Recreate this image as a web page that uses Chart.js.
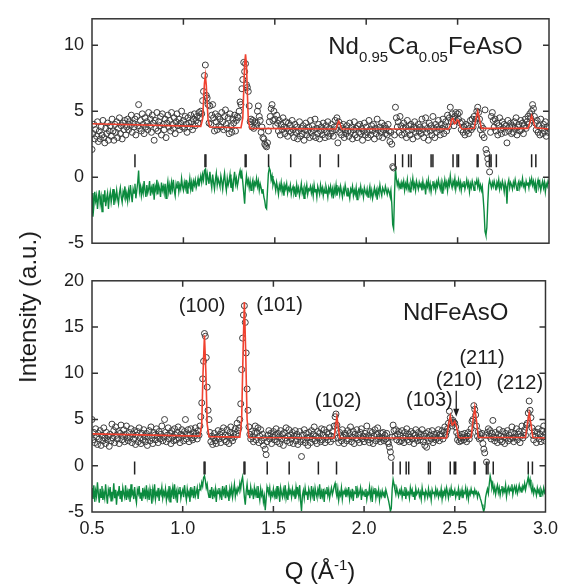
<!DOCTYPE html>
<html><head><meta charset="utf-8">
<script src="https://cdn.jsdelivr.net/npm/chart.js@4/dist/chart.umd.min.js"></script>
<style>
html,body{margin:0;padding:0;background:#fff;}
#wrap{position:relative;width:564px;height:586px;font-family:"Liberation Sans",Arial,sans-serif;color:#1a1a1a;overflow:hidden;}
canvas{position:absolute;left:0;}
#c1{top:0}
#c2{top:262px}
#ytitle{position:absolute;left:28px;top:307px;transform:translate(-50%,-50%) rotate(-90deg);font-size:24px;white-space:nowrap;line-height:1;}
#xtitle{position:absolute;left:320px;top:571px;transform:translate(-50%,-50%);font-size:24px;white-space:nowrap;line-height:1;}
#xtitle sup{font-size:15px;vertical-align:9px;line-height:0;}
</style></head>
<body>
<div id="wrap">
<canvas id="c1" width="564" height="262"></canvas>
<canvas id="c2" width="564" height="324"></canvas>
<div id="ytitle">Intensity (a.u.)</div>
<div id="xtitle">Q (Å<sup>-1</sup>)</div>
</div>
<script>
// ---------- data ----------
const qStart = 0.5, qStep = 0.005;
const qTicks = [0.5, 1.0, 1.5, 2.0, 2.5, 3.0];
const yTicksTop = [-5, 0, 5, 10];
const yTicksBot = [-5, 0, 5, 10, 15, 20];

// Nd0.95Ca0.05FeAsO observed intensity (Q = 0.500 ... 3.000, step 0.005)
const obsTop = [
2.1,3.3,4.0,2.9,3.6,3.1,4.2,2.7,3.5,2.9,3.8,3.2,4.3,3.0,2.6,3.7,3.3,4.1,2.8,3.5,
3.9,3.1,4.4,3.5,2.8,4.0,3.4,4.2,3.0,3.7,4.5,3.3,3.9,2.9,4.1,3.6,4.3,3.2,3.8,4.4,
3.6,4.2,3.9,4.7,3.4,4.1,3.8,4.4,3.2,4.6,3.9,5.5,3.7,4.3,3.5,4.8,4.0,3.3,4.5,3.8,
4.2,3.6,4.9,3.9,4.4,3.4,4.7,4.1,2.8,4.3,3.7,4.9,3.5,4.2,3.9,4.6,3.2,4.8,4.0,3.6,
4.4,3.0,4.1,4.7,3.8,4.3,3.5,4.9,4.0,3.7,4.5,3.3,4.2,4.8,3.9,4.4,3.6,4.1,5.0,3.8,
4.3,3.7,4.6,4.0,3.4,4.5,4.1,3.8,4.7,4.2,3.6,4.4,4.8,3.9,4.3,4.6,4.1,4.9,4.5,5.0,
4.8,5.8,6.5,7.7,8.5,6.2,6.0,5.5,4.1,5.4,4.0,4.7,5.5,4.5,3.5,4.8,4.2,3.6,4.6,3.9,
4.4,3.8,4.9,4.2,3.6,4.6,5.1,4.0,3.7,4.5,3.3,4.8,3.9,3.4,4.4,4.1,4.7,3.5,4.3,4.6,
4.5,5.0,5.7,5.5,6.7,7.4,8.7,8.0,8.6,7.0,6.8,6.5,5.4,4.2,4.4,3.8,4.3,3.7,4.2,3.9,
4.1,5.0,5.4,4.6,4.3,3.4,3.8,3.0,2.9,2.5,2.4,2.3,2.6,3.5,4.2,4.6,5.2,5.5,4.3,5.0,
4.4,3.9,4.7,4.1,3.5,4.3,3.2,4.0,3.6,4.5,3.8,3.3,4.2,3.7,3.1,4.1,3.5,3.9,3.4,4.3,
3.6,3.0,4.0,3.4,3.8,2.9,3.5,4.2,3.1,3.7,3.3,3.9,2.8,3.6,4.1,3.2,3.5,3.8,3.0,4.3,
3.4,3.9,3.1,3.6,4.4,3.0,3.7,3.3,4.0,2.9,3.5,3.8,3.2,4.1,3.6,3.0,3.9,3.4,4.2,3.1,
3.7,3.3,4.0,3.5,3.1,3.8,4.3,3.6,4.5,2.6,4.2,3.4,3.9,3.2,3.7,4.0,3.0,3.6,3.3,3.9,
3.5,3.1,4.1,3.4,3.8,2.9,3.6,4.2,3.2,3.7,3.0,3.9,3.4,4.0,3.3,3.7,2.8,3.5,4.1,3.2,
3.8,3.4,3.0,4.3,3.6,3.2,3.9,3.5,4.0,2.9,3.7,3.3,4.4,3.6,3.1,3.8,3.4,4.1,3.0,3.6,
3.9,3.3,3.7,3.2,4.0,3.5,2.7,3.4,2.5,0.8,0.7,3.2,5.3,4.5,3.8,4.2,3.4,4.6,3.9,3.2,
3.7,4.1,3.3,3.8,3.0,4.3,3.5,3.9,3.2,4.0,3.6,2.9,3.8,4.2,3.4,3.7,3.1,4.0,3.5,3.8,
3.3,4.4,3.6,3.0,3.9,4.5,3.4,3.7,2.8,4.1,3.5,3.9,3.2,4.6,3.7,3.0,4.0,3.4,3.8,4.3,
3.6,3.2,4.0,3.7,4.4,3.3,3.9,4.2,3.5,4.7,3.8,4.5,5.3,4.2,4.8,4.4,3.9,4.6,4.9,4.3,
4.8,4.4,4.9,4.1,3.6,4.2,3.4,3.8,3.2,4.0,3.5,3.9,3.3,3.7,4.3,3.6,4.4,3.8,4.6,4.2,
4.4,5.0,5.3,4.9,4.4,3.6,3.9,3.2,3.7,3.0,5.1,2.1,1.8,1.4,1.0,0.4,3.4,4.6,4.9,4.3,
3.8,4.4,3.5,4.1,3.2,3.9,4.5,3.6,3.3,4.2,3.7,4.0,3.4,3.9,2.6,4.3,3.5,3.8,4.1,3.3,
3.9,3.4,4.2,3.7,4.5,3.2,3.8,4.0,3.5,4.3,3.6,4.1,3.3,3.9,4.4,3.7,4.2,4.6,4.0,4.8,
4.5,5.0,5.5,5.2,4.6,4.1,3.6,4.3,3.4,3.9,3.2,4.4,3.7,3.3,4.0,3.5,4.2,3.1,3.8,3.4,
3.7];

// Nd0.95Ca0.05FeAsO difference curve
const diffTop = [
-1.2,-3.0,-2.2,-1.1,-1.8,-1.4,-2.4,-1.6,-1.0,-2.0,-1.5,-2.6,-1.3,-1.9,-1.0,-2.2,-1.6,-1.2,-2.4,-1.5,
-1.1,-1.9,-1.4,-0.9,-2.1,-1.3,-1.7,-1.0,-1.6,-2.0,-1.2,-0.8,-1.5,-1.9,-1.1,-1.4,-0.7,-1.6,-1.2,-1.8,
-1.0,-1.5,-0.6,-1.3,-1.9,-0.9,-1.2,-0.5,-1.6,-1.0,-0.4,0.5,-1.1,-0.7,-1.4,-0.8,-1.2,-0.3,-1.0,-1.5,
-0.6,-1.2,-0.9,-0.3,-1.4,-0.8,-1.1,-0.5,-1.7,-0.7,-1.0,-0.2,-1.3,-0.6,-0.9,-1.5,-0.4,-1.0,-0.7,-1.2,
-0.5,-1.6,-0.8,-0.3,-1.1,-0.6,-1.3,-0.4,-0.9,-0.2,-1.0,-1.4,-0.5,-0.8,-0.3,-1.1,-0.6,-0.9,-0.1,-0.7,
-1.0,-0.4,-0.8,-0.2,-1.2,-0.5,-0.7,-0.1,-0.9,-0.4,-1.1,-0.3,-0.6,-0.2,-0.8,-0.5,-0.1,-0.7,-0.3,0.1,
-0.4,0.2,-0.2,0.5,0.6,-0.6,0.3,-0.1,-0.5,0.4,-0.3,-0.8,0.2,-0.4,-0.9,-0.2,0.3,-0.6,-0.1,-0.4,
-0.7,0.1,-0.3,-0.9,-0.2,0.3,-0.5,-1.0,-0.1,-0.6,-0.3,0.2,-0.8,-0.4,-1.1,-0.2,0.4,-0.5,-0.1,-0.7,
-0.3,0.2,0.5,-0.1,0.3,-0.4,-1.2,-2.0,-0.6,0.1,-0.5,-0.2,-0.8,-0.3,-1.0,-0.5,-0.2,-0.9,-0.4,-0.6,
-0.1,-0.7,-0.3,-1.0,-0.5,-0.8,-1.2,-0.9,-1.5,-1.8,-2.3,-2.4,-1.0,0.3,0.7,0.5,-0.2,0.1,-0.6,-0.3,
-0.5,-1.0,-0.4,-0.8,-1.3,-0.6,-0.9,-0.4,-1.1,-0.7,-1.4,-0.6,-0.9,-0.5,-1.2,-0.8,-1.0,-0.6,-1.3,-0.9,
-0.7,-1.2,-0.9,-1.5,-0.6,-1.1,-0.8,-1.4,-1.0,-0.5,-1.2,-0.9,-1.6,-0.8,-1.1,-0.6,-1.3,-0.9,-1.0,-0.7,
-1.2,-0.8,-1.4,-0.6,-1.1,-0.9,-1.5,-0.7,-1.0,-1.3,-0.6,-1.1,-0.8,-1.4,-0.9,-1.2,-0.7,-1.0,-1.5,-0.8,
-1.1,-0.7,-1.3,-0.9,-1.6,-0.8,-1.2,-0.6,-1.4,-1.0,-0.8,-1.3,-0.7,-1.1,-1.5,-0.9,-1.2,-0.6,-1.0,-1.4,
-0.8,-1.2,-1.6,-0.9,-1.1,-0.7,-1.4,-1.0,-1.3,-0.8,-1.7,-1.1,-0.9,-1.3,-0.7,-1.2,-1.0,-1.5,-0.8,-1.1,
-1.3,-0.9,-1.5,-1.1,-0.7,-1.4,-1.0,-1.6,-1.2,-0.8,-1.3,-1.0,-1.7,-0.9,-1.2,-0.6,-1.1,-1.4,-0.8,-1.0,
-1.2,-0.7,-1.0,-1.3,-0.9,-1.1,-1.4,-1.0,-2.0,-3.6,-3.9,-1.2,0.7,-0.1,-0.6,-0.3,-0.8,-0.5,-0.9,-0.4,
-0.7,-0.3,-1.0,-0.5,-0.8,-0.2,-0.9,-0.6,-1.1,-0.4,-0.7,-0.1,-0.8,-0.5,-1.0,-0.3,-0.6,-0.9,-0.4,-0.7,
-0.5,-1.0,-0.3,-0.8,-0.6,-1.3,-0.4,-0.7,-0.2,-0.9,-0.5,-1.1,-0.6,-0.3,-0.8,-0.5,-1.0,-0.4,-0.7,-0.2,
-0.6,-0.9,-0.4,-1.2,-0.5,-0.8,-0.2,-0.7,-0.4,-1.0,-0.3,-0.6,0.1,-0.5,-0.8,-0.3,-0.6,-0.1,-0.9,-0.4,
-0.6,-0.2,-0.8,-0.4,-1.0,-0.5,-0.7,-0.3,-0.9,-0.6,-0.2,-0.7,-0.4,-1.1,-0.5,-0.8,-0.3,-0.6,-1.0,-0.4,
-0.5,-0.2,-0.7,-0.3,-0.9,-0.6,-1.0,-0.7,-1.6,-2.6,-4.1,-4.4,-3.8,-2.0,-0.6,-0.2,-0.5,-0.8,-0.4,-0.7,
-0.3,-0.6,-1.0,-0.4,-0.7,-0.2,-0.9,-0.5,-0.8,-0.3,-0.6,-1.1,-0.4,-0.7,-2.0,-0.5,-0.2,-0.8,-0.4,-0.6,
-0.9,-0.4,-0.7,-0.2,-0.6,-1.0,-0.5,-0.3,-0.8,-0.4,-0.6,-0.1,-0.7,-0.5,-0.9,-0.3,-0.6,-0.4,-0.8,-0.2,
-0.5,-0.1,-0.6,-0.3,-0.8,-0.4,-1.2,-0.5,-0.2,-0.7,-0.4,-1.0,-0.6,-0.3,-0.8,-0.4,-1.1,-0.5,-0.7,-0.3,
-0.5];

// Nd0.95Ca0.05FeAsO calculated profile
const calcTopQ = [0.5,1.095,1.105,1.115,1.12,1.125,1.135,1.145,1.315,1.325,1.335,1.34,1.345,1.355,1.365,
  1.835,1.845,1.85,1.855,1.865,2.45,2.46,2.468,2.475,2.483,2.49,2.498,2.505,2.515,2.525,
  2.59,2.6,2.61,2.62,2.63,2.885,2.895,2.905,2.915,2.925,3.0];
const calcTopI = [4.05,3.85,4.4,7.1,7.7,7.0,4.3,3.8,3.75,4.5,8.6,9.3,8.5,4.3,3.7,
  3.65,4.1,4.25,4.1,3.65,3.65,3.9,4.4,4.45,4.05,4.1,4.35,4.3,3.8,3.65,
  3.7,4.4,5.0,4.4,3.7,3.7,4.1,4.65,4.2,3.75,3.65];

// NdFeAsO observed intensity (Q = 0.500 ... 3.000, step 0.005)
const obsBot = [
5.0,2.8,3.6,2.5,4.0,3.1,2.3,3.5,2.9,3.8,2.2,3.3,2.7,4.1,3.0,2.4,3.6,2.8,3.2,2.1,
3.4,2.7,4.5,3.0,3.8,2.5,4.2,3.3,2.9,3.7,2.4,3.5,4.4,2.8,3.2,3.9,2.6,3.4,4.3,3.0,
2.7,3.6,3.1,4.0,2.5,3.4,2.9,3.8,2.3,3.3,3.7,2.6,4.1,3.0,2.4,3.5,2.8,3.9,3.2,2.6,
3.5,2.2,3.1,3.8,2.7,4.2,3.0,2.4,3.6,3.3,2.8,4.0,3.2,2.5,3.7,2.9,3.4,4.3,2.7,3.1,
5.0,3.6,2.6,3.3,4.1,2.9,3.5,2.4,3.8,3.1,2.7,4.0,3.3,2.8,3.6,4.2,3.0,2.5,3.4,3.9,
3.2,2.7,3.7,5.0,2.9,3.4,3.9,2.6,3.3,4.0,3.0,2.8,3.6,3.2,4.1,3.5,2.9,3.8,3.3,4.3,
5.3,6.8,9.4,11.3,14.3,14.0,11.7,8.5,6.0,5.0,3.6,2.6,3.2,2.3,3.0,3.5,2.7,2.4,3.1,3.8,
2.9,3.4,2.5,3.7,3.1,4.1,2.8,3.3,2.6,3.9,3.2,2.4,3.6,4.2,3.0,2.7,3.5,3.1,4.0,3.4,
4.6,3.8,4.1,5.0,6.7,10.4,13.8,16.3,17.3,15.5,12.2,8.3,6.0,4.2,3.4,2.9,3.7,3.1,2.6,3.5,
4.3,2.8,3.6,4.1,2.5,3.2,3.9,2.7,3.4,2.2,3.0,1.8,1.2,2.6,3.3,3.8,2.9,3.5,2.4,3.1,
3.7,2.8,3.3,4.0,2.6,3.5,3.1,2.4,3.8,2.9,3.4,2.2,3.6,3.0,4.1,2.7,3.2,3.9,2.5,3.3,
2.9,3.6,2.4,3.2,3.8,2.7,3.4,2.3,3.1,3.7,2.6,1.0,3.3,2.8,3.9,2.5,3.5,3.0,2.2,3.6,
3.1,2.5,3.8,2.9,3.4,4.2,2.7,3.2,2.4,3.7,3.0,3.5,2.6,4.0,2.8,3.3,3.9,2.5,3.1,3.6,
2.8,3.4,4.1,2.6,3.2,3.7,2.9,4.3,5.3,5.6,4.4,3.0,2.5,3.6,3.2,2.7,3.9,3.1,2.4,3.5,
3.3,2.7,3.8,2.9,3.5,4.2,2.6,3.1,3.7,2.4,3.4,3.0,3.9,2.8,3.3,2.5,3.6,4.0,2.9,3.2,
2.6,3.5,3.1,4.3,2.8,3.3,2.5,3.7,3.0,3.6,2.4,3.2,3.9,2.7,3.4,4.1,2.9,3.1,2.6,3.5,
3.0,3.6,2.7,3.3,2.9,3.5,2.6,2.4,2.0,1.5,0.9,3.1,4.4,3.8,3.2,3.9,2.8,3.4,3.7,2.6,
3.3,2.7,3.8,3.0,2.5,3.6,3.2,4.0,2.8,3.4,2.6,3.1,3.7,2.9,3.5,2.4,3.3,3.9,3.0,2.7,
3.6,3.1,2.8,3.4,3.9,2.6,3.2,2.2,3.5,2.0,3.0,3.7,2.7,3.3,2.9,3.8,2.5,3.4,3.1,2.8,
3.5,3.0,3.9,2.7,3.4,3.2,3.8,2.9,3.6,4.2,3.3,3.7,4.0,4.6,5.9,5.2,4.6,4.3,4.9,4.7,
4.6,4.2,3.6,2.8,3.3,2.6,3.0,2.7,3.4,3.1,2.8,3.5,3.0,2.6,3.2,3.6,2.9,3.4,4.0,4.8,
5.0,6.5,6.1,5.5,4.3,3.2,3.7,2.9,3.4,3.0,3.5,2.4,1.8,1.4,3.3,0.4,3.6,4.0,3.2,3.8,
2.9,3.5,4.9,3.1,2.7,3.6,3.0,2.5,3.4,3.9,2.8,3.2,2.6,3.7,3.1,2.4,3.5,3.0,3.8,2.7,
3.3,2.9,3.6,4.2,3.0,2.6,3.5,3.1,4.0,2.8,3.4,3.7,2.5,3.2,4.3,3.0,3.6,3.9,3.3,4.4,
4.6,5.7,7.0,6.0,5.2,4.1,3.3,2.8,3.7,3.2,2.5,3.6,4.0,2.9,3.4,2.6,3.8,3.1,4.3,2.7,
3.5];

// NdFeAsO difference curve
const diffBot = [
-2.4,-3.6,-2.1,-3.9,-2.7,-3.3,-1.8,-3.0,-4.0,-2.5,-3.4,-2.2,-3.7,-2.9,-3.5,-2.0,-3.2,-4.1,-2.6,-3.1,
-2.3,-3.8,-2.8,-3.3,-1.9,-3.5,-2.6,-4.2,-2.9,-3.1,-2.2,-3.6,-2.7,-3.9,-2.4,-3.0,-3.4,-2.1,-3.7,-2.8,
-3.3,-2.5,-3.9,-2.0,-3.1,-2.8,-3.6,-2.3,-3.4,-4.0,-2.6,-3.0,-2.2,-3.5,-2.9,-3.8,-2.4,-3.2,-2.7,-3.6,
-2.1,-3.4,-2.8,-3.7,-2.5,-3.1,-4.1,-2.6,-3.3,-2.0,-3.6,-2.9,-3.2,-2.4,-3.8,-2.7,-3.0,-2.3,-3.5,-2.8,
-3.2,-2.5,-3.7,-2.9,-3.4,-2.2,-3.9,-2.7,-3.1,-2.4,-3.6,-2.0,-3.3,-2.8,-4.0,-2.6,-3.0,-2.3,-3.5,-2.9,
-2.6,-3.4,-2.1,-3.0,-3.7,-2.5,-3.2,-2.8,-3.9,-2.3,-3.1,-2.7,-3.5,-2.2,-3.3,-2.9,-2.4,-3.6,-2.6,-2.2,
-2.5,-1.8,-2.2,-1.3,-1.1,-1.6,-2.4,-2.0,-2.9,-3.4,-2.6,-3.1,-2.3,-3.6,-2.8,-3.2,-2.5,-3.9,-2.7,-3.0,
-2.4,-3.3,-2.8,-3.7,-2.2,-3.0,-2.6,-3.5,-2.1,-3.2,-2.9,-3.8,-2.5,-3.1,-2.3,-3.4,-2.7,-2.0,-3.3,-2.6,
-3.0,-2.4,-2.7,-1.9,-2.5,-1.6,-1.2,-2.2,-3.4,-4.2,-2.8,-2.0,-3.1,-2.6,-3.5,-2.3,-3.0,-2.7,-3.6,-2.4,
-3.1,-2.6,-3.4,-2.2,-3.0,-3.7,-2.5,-3.2,-2.8,-3.9,-3.3,-4.8,-3.6,-2.3,-2.7,-3.1,-2.4,-3.5,-2.9,-3.2,
-2.5,-3.3,-2.8,-3.6,-2.2,-3.1,-2.7,-3.9,-2.4,-3.0,-3.4,-2.6,-3.2,-2.1,-3.5,-2.9,-3.7,-2.3,-3.0,-2.7,
-3.4,-2.5,-3.1,-2.8,-3.6,-2.3,-3.0,-2.6,-3.3,-2.1,-3.8,-4.9,-3.2,-2.7,-3.5,-2.4,-3.1,-2.8,-3.7,-2.5,
-2.9,-3.5,-2.2,-3.2,-2.7,-3.8,-2.4,-3.0,-3.4,-2.6,-3.1,-2.0,-3.6,-2.8,-3.3,-2.5,-3.9,-2.7,-3.0,-2.3,
-3.2,-2.6,-3.5,-2.9,-2.4,-3.1,-2.7,-2.2,-1.9,-2.8,-3.3,-2.5,-3.7,-2.9,-3.2,-2.4,-3.6,-2.8,-3.0,-2.6,
-3.4,-2.7,-3.1,-2.3,-3.6,-2.9,-3.3,-2.5,-3.8,-2.8,-3.0,-2.2,-3.5,-2.6,-3.2,-2.9,-2.4,-3.7,-2.7,-3.1,
-2.8,-3.3,-2.5,-3.6,-2.9,-3.1,-2.3,-3.4,-2.7,-3.9,-2.6,-3.0,-2.4,-3.5,-2.8,-3.2,-2.6,-3.7,-2.9,-3.3,
-2.7,-3.2,-2.9,-3.5,-2.6,-3.0,-3.4,-3.8,-4.3,-4.9,-4.6,-2.5,-1.5,-2.0,-2.6,-3.1,-2.4,-2.9,-3.3,-2.7,
-3.0,-2.5,-3.4,-2.8,-3.2,-2.3,-3.6,-2.7,-3.1,-2.9,-3.5,-2.4,-3.0,-2.6,-3.3,-2.8,-3.7,-2.5,-3.1,-2.9,
-2.6,-3.3,-2.9,-3.6,-2.4,-3.1,-2.8,-3.5,-2.7,-3.0,-3.4,-2.5,-3.2,-2.9,-3.7,-2.6,-3.0,-2.8,-3.3,-2.5,
-3.1,-2.7,-3.4,-2.9,-3.2,-2.5,-3.6,-2.8,-3.0,-2.6,-3.3,-2.4,-2.9,-3.5,-2.7,-3.1,-2.4,-3.2,-2.8,-3.0,
-2.6,-3.4,-2.9,-3.1,-2.5,-3.7,-2.8,-3.2,-2.6,-3.5,-2.9,-3.0,-2.4,-3.3,-2.7,-3.6,-2.8,-3.1,-2.5,-3.0,
-2.7,-3.2,-2.6,-3.0,-2.8,-3.4,-2.9,-3.1,-3.5,-3.8,-4.2,-4.6,-4.9,-4.5,-3.4,-2.9,-2.5,-3.0,-2.0,-1.1,
-1.6,-2.4,-2.0,-2.8,-2.3,-3.1,-2.5,-2.1,-2.9,-2.4,-3.2,-2.6,-2.2,-3.0,-2.5,-2.8,-2.1,-3.3,-2.6,-2.3,
-2.9,-2.4,-2.7,-2.0,-3.1,-2.5,-2.2,-2.8,-2.3,-3.0,-2.6,-2.1,-2.7,-2.4,-2.9,-2.2,-2.5,-1.9,-2.6,-2.1,
-1.7,-1.2,-2.0,-1.5,-2.4,-2.8,-2.2,-3.0,-2.5,-2.7,-3.2,-2.4,-2.9,-2.6,-3.3,-2.5,-2.8,-3.1,-2.4,-2.9,
-2.6];

// NdFeAsO calculated profile
const calcBotQ = [0.5,1.095,1.105,1.112,1.12,1.128,1.135,1.145,1.315,1.325,1.333,1.34,1.347,1.355,1.365,
  1.835,1.845,1.85,1.855,1.865,2.455,2.465,2.475,2.485,2.49,2.5,2.51,2.52,2.53,
  2.59,2.6,2.61,2.62,2.63,2.89,2.9,2.91,2.92,2.93,3.0];
const calcBotI = [3.45,3.2,4.5,10.0,14.1,10.0,4.5,3.15,3.1,5.0,12.5,17.7,12.5,5.0,3.05,
  3.0,4.6,5.3,4.6,3.0,3.0,4.4,5.4,4.4,4.5,4.8,4.2,3.1,3.0,
  3.05,4.8,6.3,4.8,3.05,3.05,4.5,5.7,4.5,3.05,3.0];

// Bragg reflection positions
const braggQ = [0.735,1.118,1.123,1.338,1.343,1.466,1.587,1.748,1.848,2.159,2.199,2.232,2.246,
  2.355,2.365,2.475,2.497,2.505,2.607,2.612,2.674,2.683,2.712,2.905,2.928];
const braggLevelTop = 1.25;
const braggLevelBot = -0.25;

// Peak indices (bottom panel)
const peakText = ['(100)','(101)','(102)','(103)','(210)','(211)','(212)'];
const peakTextQ = [1.107,1.534,1.857,2.36,2.524,2.65,2.858];
const peakTextI = [17.2,17.3,6.9,7.1,9.2,11.6,8.9];
const arrowQ = 2.508, arrowFrom = 8.1, arrowTo = 5.3;

// ---------- helpers ----------
const toXY = (arr) => arr.map((v, i) => ({x: qStart + i * qStep, y: v}));
const pairs = (qs, is) => qs.map((q, i) => ({x: q, y: is[i]}));
const FONT = '"Liberation Sans", Arial, sans-serif';
const INK = '#1e1e1e';

const framePlugin = {
  id: 'frame',
  afterDatasetsDraw(chart) {
    const {ctx, chartArea: a} = chart;
    const x = chart.scales.x, y = chart.scales.y;
    ctx.save();
    ctx.strokeStyle = '#333';
    ctx.lineWidth = 1.5;
    ctx.strokeRect(a.left, a.top, a.right - a.left, a.bottom - a.top);
    const L = 6;
    ctx.beginPath();
    x.ticks.forEach(t => {
      const p = x.getPixelForValue(t.value);
      if (p <= a.left + 1 || p >= a.right - 1) return;
      ctx.moveTo(p, a.bottom); ctx.lineTo(p, a.bottom - L);
      ctx.moveTo(p, a.top); ctx.lineTo(p, a.top + L);
    });
    y.ticks.forEach(t => {
      const p = y.getPixelForValue(t.value);
      if (p <= a.top + 1 || p >= a.bottom - 1) return;
      ctx.moveTo(a.left, p); ctx.lineTo(a.left + L, p);
      ctx.moveTo(a.right, p); ctx.lineTo(a.right - L, p);
    });
    ctx.stroke();
    ctx.restore();
  }
};

const annotPlugin = {
  id: 'annot',
  afterDraw(chart, args, opts) {
    const {ctx} = chart;
    const x = chart.scales.x, y = chart.scales.y;
    ctx.save();
    ctx.fillStyle = INK;
    // formula-style sample label with subscripts
    if (opts.title) {
      const segs = opts.title.segs;
      let w = 0;
      segs.forEach(s => { ctx.font = (s[1] ? 15 : 24) + 'px ' + FONT; w += ctx.measureText(s[0]).width; });
      let px = x.getPixelForValue(opts.title.q) - w / 2;
      const base = y.getPixelForValue(opts.title.v);
      ctx.textBaseline = 'alphabetic';
      ctx.textAlign = 'left';
      segs.forEach(s => {
        ctx.font = (s[1] ? 15 : 24) + 'px ' + FONT;
        ctx.fillText(s[0], px, base + (s[1] ? 8 : 0));
        px += ctx.measureText(s[0]).width;
      });
    }
    if (opts.labels) {
      ctx.font = '20px ' + FONT;
      ctx.textAlign = 'center';
      ctx.textBaseline = 'middle';
      opts.labels.text.forEach((t, i) => {
        ctx.fillText(t, x.getPixelForValue(opts.labels.q[i]), y.getPixelForValue(opts.labels.v[i]));
      });
    }
    if (opts.arrow) {
      const ax = x.getPixelForValue(opts.arrow.q);
      const y1 = y.getPixelForValue(opts.arrow.from), y2 = y.getPixelForValue(opts.arrow.to);
      ctx.strokeStyle = INK; ctx.lineWidth = 1.3;
      ctx.beginPath(); ctx.moveTo(ax, y1); ctx.lineTo(ax, y2 - 5); ctx.stroke();
      ctx.beginPath(); ctx.moveTo(ax, y2); ctx.lineTo(ax - 3, y2 - 8); ctx.lineTo(ax + 3, y2 - 8); ctx.closePath(); ctx.fill();
    }
    ctx.restore();
  }
};

function datasets(obs, diff, cq, ci, braggLevel) {
  return [
    {label: 'calc', data: pairs(cq, ci), showLine: true, borderColor: '#f0412f', borderWidth: 1.6,
      pointRadius: 0, order: 0, tension: 0},
    {label: 'obs', data: toXY(obs), showLine: false, pointRadius: 3, pointBorderWidth: 1,
      pointBorderColor: '#3c3c3c', pointBackgroundColor: 'rgba(0,0,0,0)', order: 1},
    {label: 'diff', data: toXY(diff), showLine: true, borderColor: '#0b8a3e', borderWidth: 1.4,
      pointRadius: 0, order: 2},
    {label: 'bragg', data: braggQ.map(q => ({x: q, y: braggLevel})), showLine: false,
      pointStyle: 'line', rotation: 90, pointRadius: 6.5, pointBorderWidth: 1.5,
      pointBorderColor: '#222', order: 3}
  ];
}

function makeChart(id, cfg) {
  return new Chart(document.getElementById(id), {
    type: 'scatter',
    data: {datasets: datasets(cfg.obs, cfg.diff, cfg.cq, cfg.ci, cfg.bragg)},
    options: {
      responsive: false, animation: false, devicePixelRatio: 1,
      layout: {padding: {left: 0, right: 15, top: cfg.padTop, bottom: 0}},
      plugins: {legend: {display: false}, tooltip: {enabled: false}, annot: cfg.annot},
      scales: {
        x: {type: 'linear', min: 0.5, max: 3.0,
          afterBuildTicks: s => { s.ticks = qTicks.map(v => ({value: v})); },
          grid: {display: false, drawTicks: false}, border: {display: false},
          ticks: {display: cfg.showX, padding: 6, color: INK, font: {family: FONT, size: 18},
            callback: v => Number(v).toFixed(1)},
          afterFit: s => { s.height = cfg.xh; }},
        y: {type: 'linear', min: cfg.ymin, max: cfg.ymax,
          afterBuildTicks: s => { s.ticks = cfg.yticks.map(v => ({value: v})); },
          grid: {display: false, drawTicks: false}, border: {display: false},
          ticks: {padding: 8, color: INK, font: {family: FONT, size: 18}},
          afterFit: s => { s.width = 92; }}
      }
    },
    plugins: [framePlugin, annotPlugin]
  });
}

makeChart('c1', {obs: obsTop, diff: diffTop, cq: calcTopQ, ci: calcTopI, bragg: braggLevelTop,
  ymin: -5, ymax: 12, yticks: yTicksTop, padTop: 10, xh: 14, showX: false,
  annot: {title: {q: 2.324, v: 9.36, segs: [['Nd',0],['0.95',1],['Ca',0],['0.05',1],['FeAsO',0]]}}});

makeChart('c2', {obs: obsBot, diff: diffBot, cq: calcBotQ, ci: calcBotI, bragg: braggLevelBot,
  ymin: -5, ymax: 20, yticks: yTicksBot, padTop: 12, xh: 74, showX: true,
  annot: {title: {q: 2.505, v: 15.8, segs: [['NdFeAsO',0]]},
    labels: {text: peakText, q: peakTextQ, v: peakTextI},
    arrow: {q: arrowQ, from: arrowFrom, to: arrowTo}}});
</script>
</body></html>
